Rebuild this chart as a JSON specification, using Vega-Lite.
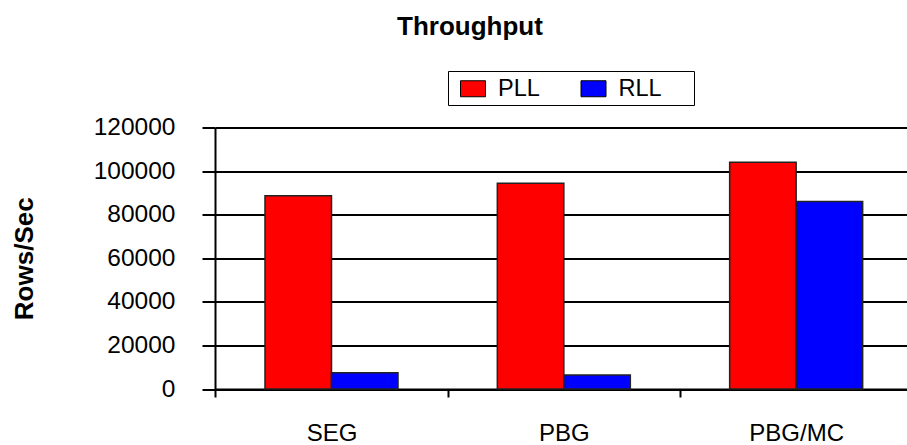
{
  "$schema": "https://vega.github.io/schema/vega-lite/v6.json",
  "width": 692,
  "height": 261.5,
  "autosize": "none",
  "padding": {"left": 215, "top": 127.5, "right": 0, "bottom": 56},
  "background": "white",
  "title": {"text": "Throughput", "font": "Liberation Sans", "fontSize": 26, "fontWeight": "bold", "color": "black", "anchor": "middle", "frame": "group", "dx": -91, "offset": 31},
  "data": {"values": [
    {"category": "SEG", "series": "PLL", "value": 88700},
    {"category": "SEG", "series": "RLL", "value": 7480},
    {"category": "PBG", "series": "PLL", "value": 94400},
    {"category": "PBG", "series": "RLL", "value": 6420},
    {"category": "PBG/MC", "series": "PLL", "value": 104000},
    {"category": "PBG/MC", "series": "RLL", "value": 86000}
  ]},
  "mark": {"type": "bar", "stroke": "#222222", "strokeWidth": 1.5},
  "encoding": {
    "x": {"field": "category", "type": "nominal", "sort": ["SEG", "PBG", "PBG/MC"],
      "scale": {"paddingInner": 0.4275, "paddingOuter": 0.203, "align": 0.53},
      "axis": {"title": null, "labelFont": "Liberation Sans", "labelFontSize": 24, "labelColor": "black", "labelAngle": 0, "labelPadding": 24, "tickOffset": -116.15, "labelOffset": 116.15, "tickSize": 8, "tickWidth": 2, "tickColor": "black", "domainColor": "black", "domainWidth": 2, "grid": false}},
    "xOffset": {"field": "series", "sort": ["PLL", "RLL"], "scale": {"paddingInner": 0, "paddingOuter": 0}},
    "y": {"field": "value", "type": "quantitative", "scale": {"domain": [0, 120000]},
      "axis": {"title": "Rows/Sec", "titleFont": "Liberation Sans", "titleFontSize": 26, "titleFontWeight": "bold", "titleColor": "black", "titlePadding": 56,
        "values": [0, 20000, 40000, 60000, 80000, 100000, 120000], "format": "d",
        "labelFont": "Liberation Sans", "labelFontSize": 24.5, "labelColor": "black", "labelPadding": 27,
        "tickSize": 13, "tickWidth": 2, "tickColor": "black", "domainColor": "black", "domainWidth": 2,
        "grid": true, "gridColor": "black", "gridWidth": 2, "gridOpacity": 1}},
    "color": {"field": "series", "type": "nominal", "scale": {"domain": ["PLL", "RLL"], "range": ["#FF0000", "#0000FF"]},
      "legend": {"orient": "none", "legendX": 233, "legendY": -56.5, "direction": "horizontal",
        "title": "\u00a0", "titleOrient": "right", "titlePadding": 28, "titleFontSize": 10,
        "fillColor": "white", "strokeColor": "black", "padding": 4.5,
        "symbolType": "M-1,-0.64L1,-0.64L1,0.64L-1,0.64Z", "symbolSize": 625, "symbolStrokeColor": "black", "symbolStrokeWidth": 1, "symbolOpacity": 1, "symbolOffset": 7.5,
        "labelFont": "Liberation Sans", "labelFontSize": 23.5, "labelColor": "black", "labelOffset": 12, "columnPadding": 32.5}}
  },
  "config": {"view": {"stroke": null}}
}
